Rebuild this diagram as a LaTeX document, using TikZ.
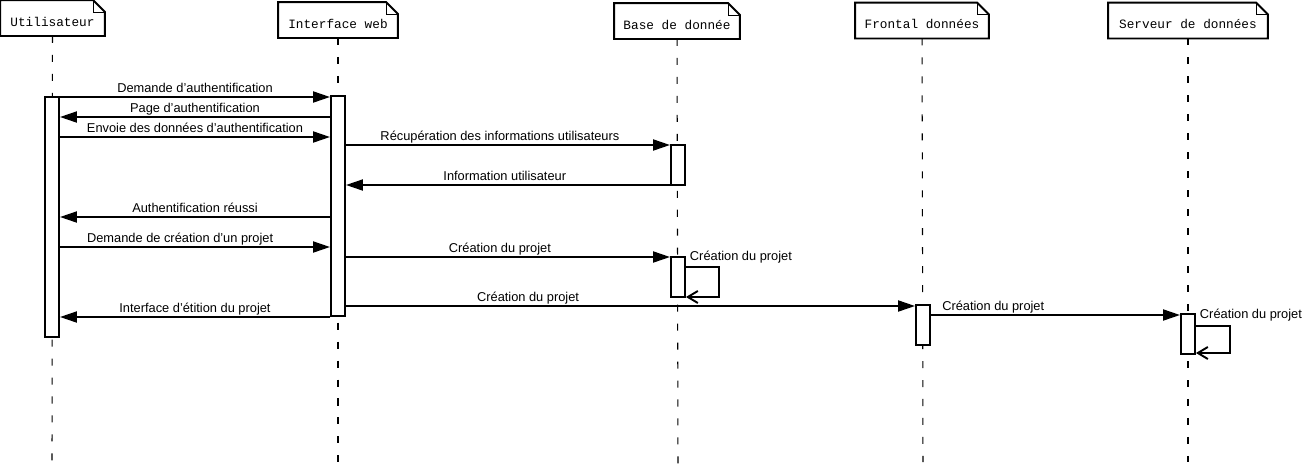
\documentclass[tikz,border=0pt]{standalone}
\usepackage{fontspec}
\setmainfont{Liberation Sans}
\newfontfamily\monofont{Liberation Mono}
\usetikzlibrary{arrows.meta}

\begin{document}
\begin{tikzpicture}
[x=0.02cm, y=-0.02cm, line width=1.1pt,
 actor/.style={minimum width=#1, minimum height=0.68cm, inner sep=0pt, text height=9.5pt, text depth=0pt, font=\monofont\fontsize{7.25}{8}\selectfont},
 act/.style={draw, fill=white, minimum width=0.28cm, minimum height=#1, inner sep=0pt},
 life/.style={line width=0.6pt, dash pattern=on 4pt off 6.8pt},
 msg/.style={-{Triangle[length=3.4mm,width=2.2mm]}},
 selfmsg/.style={-{Straight Barb[length=2mm,width=2.4mm]}},
 lab/.style={anchor=base, inner sep=0pt, yshift=2.5pt, font=\fontsize{7.3}{8}\selectfont}]
\useasboundingbox (0,0) rectangle (1303,467);

% acteurs
\node [actor=2.06cm] (user) at (52.5,18) {Utilisateur};
\node [actor=2.36cm] (web) at (338,20) {Interface web};
\node [actor=2.48cm] (bdd) at (677,21) {Base de donnée};
\node [actor=2.64cm] (front) at (922,20.5) {Frontal données};
\node [actor=3.16cm] (serv) at (1188,20.5) {Serveur de données};

\foreach \n in {user,web,bdd,front,serv}{
  \draw (\n.south west) -- (\n.north west) -- ([xshift=-0.24cm]\n.north east) -- ([yshift=-0.24cm]\n.north east) -- (\n.south east) -- cycle;
  \draw [line width=0.5pt] ([xshift=-0.24cm]\n.north east) |- ([yshift=-0.24cm]\n.north east);
}

\coordinate (userEnd) at (52,462);
\coordinate (webEnd) at (338,462);
\coordinate (bddEnd) at (678,465);
\coordinate (frontEnd) at (923,462);
\coordinate (servEnd) at (1188,462);

% lignes de vie
\draw [life] (user) -- (userEnd);
\draw [life] (web) -- (webEnd);
\draw [life] (bdd) -- (bddEnd);
\draw [life] (front) -- (frontEnd);
\draw [life] (serv) -- (servEnd);

% activations
\node [act=4.8cm] (userA) at (52,217) {};
\node [act=4.4cm] (webA) at (338,206) {};
\node [act=0.8cm] (bddA1) at (678,165) {};
\node [act=0.8cm] (bddA2) at (678,277) {};
\node [act=0.8cm] (frontA) at (923,325) {};
\node [act=0.8cm] (servA) at (1188,334) {};

% messages
\draw [msg] (userA.east |- 0,97) -- (webA.west |- 0,97) node [lab, midway] {Demande d'authentification};
\draw [msg] (webA.west |- 0,117) -- (userA.east |- 0,117) node [lab, midway] {Page d'authentification};
\draw [msg] (userA.east |- 0,137) -- (webA.west |- 0,137) node [lab, midway] {Envoie des données d'authentification};
\draw [msg] (webA.east |- 0,145) -- (bddA1.west |- 0,145) node [lab, pos=0.475] {Récupération des informations utilisateurs};
\draw [msg] (bddA1.west |- 0,185) -- (webA.east |- 0,185) node [lab, pos=0.51] {Information utilisateur};
\draw [msg] (webA.west |- 0,217) -- (userA.east |- 0,217) node [lab, midway] {Authentification réussi};
\draw [msg] (userA.east |- 0,247) -- (webA.west |- 0,247) node [lab, pos=0.445] {Demande de création d'un projet};
\draw [msg] (webA.east |- 0,257) -- (bddA2.west |- 0,257) node [lab, pos=0.475] {Création du projet};
\draw [selfmsg] (bddA2.east |- 0,267) -- ++(33,0) |- (bddA2.east |- 0,297);
\node [lab, anchor=base west, yshift=0pt] at (689,265) {Création du projet};
\draw [msg] (webA.east |- 0,306) -- (frontA.west |- 0,306) node [lab, pos=0.32] {Création du projet};
\draw [msg] (webA.west |- 0,317) -- (userA.east |- 0,317) node [lab, midway] {Interface d'étition du projet};
\draw [msg] (frontA.east |- 0,315) -- (servA.west |- 0,315) node [lab, pos=0.25] {Création du projet};
\draw [selfmsg] (servA.east |- 0,326) -- ++(34,0) |- (servA.east |- 0,353);
\node [lab, anchor=base west, yshift=0pt] at (1199,323) {Création du projet};
\end{tikzpicture}
\end{document}
